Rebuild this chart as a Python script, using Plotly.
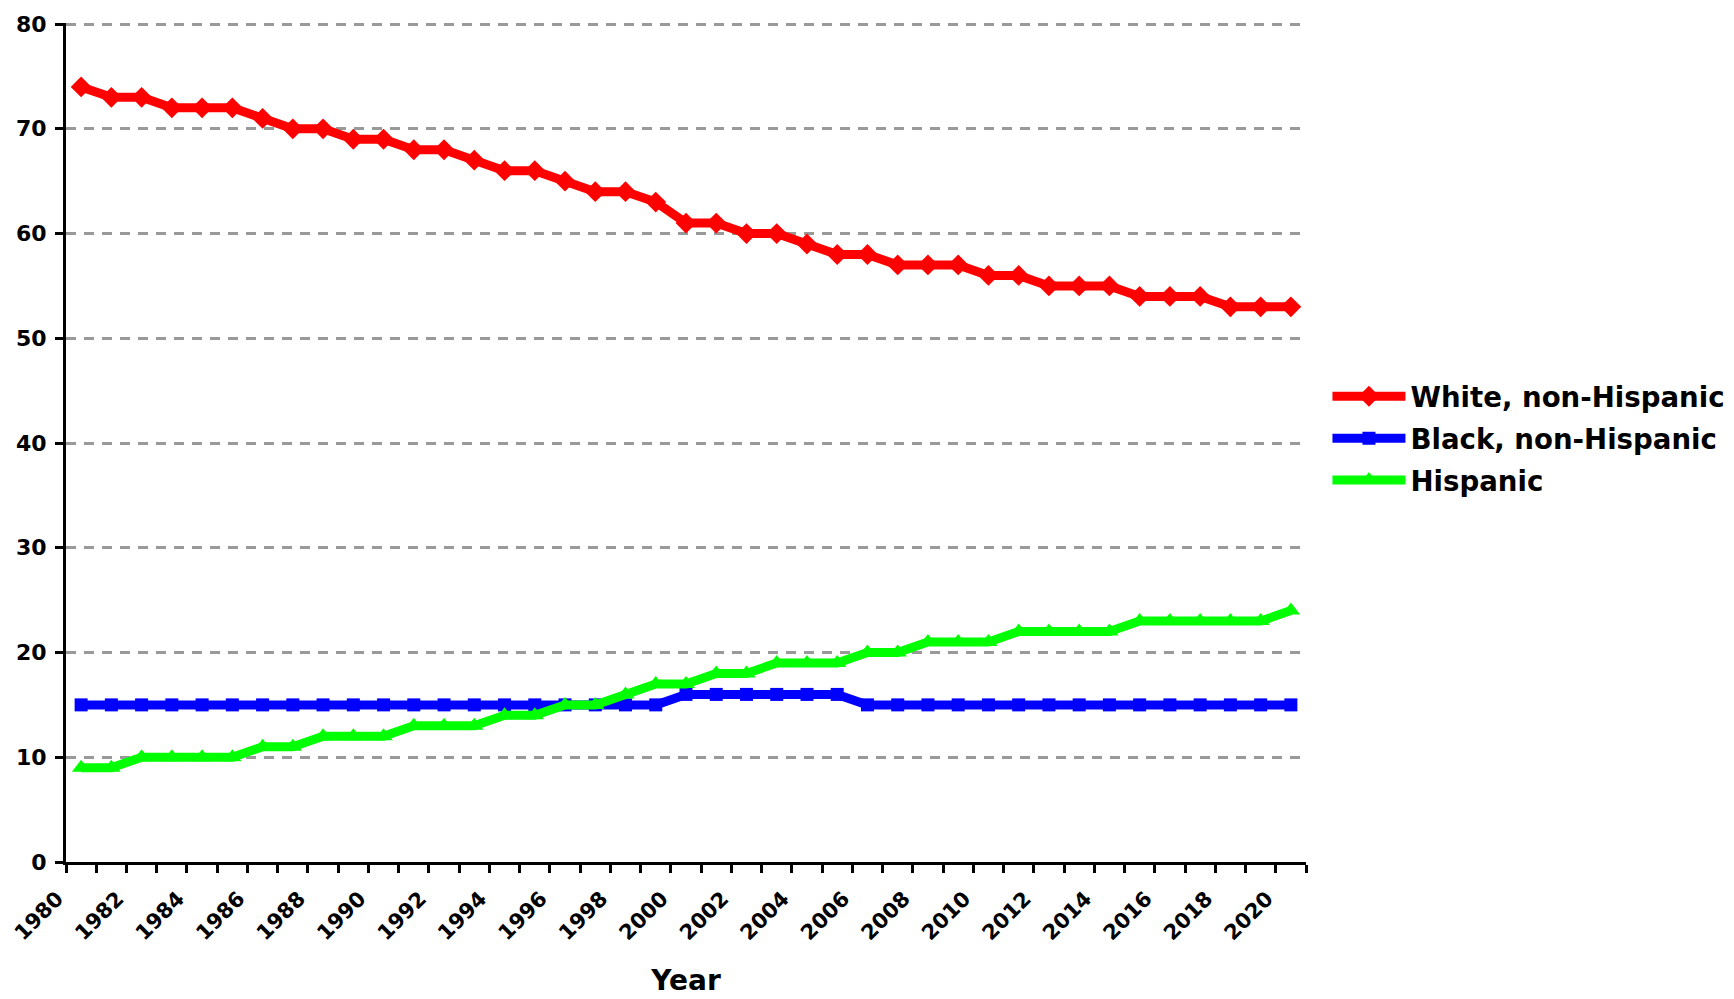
import plotly.graph_objects as go

years = list(range(1980, 2021))
white = [74, 73, 73, 72, 72, 72, 71, 70, 70, 69, 69, 68, 68, 67, 66, 66, 65, 64, 64, 63,
         61, 61, 60, 60, 59, 58, 58, 57, 57, 57, 56, 56, 55, 55, 55, 54, 54, 54, 53, 53, 53]
black = [15, 15, 15, 15, 15, 15, 15, 15, 15, 15, 15, 15, 15, 15, 15, 15, 15, 15, 15, 15,
         16, 16, 16, 16, 16, 16, 15, 15, 15, 15, 15, 15, 15, 15, 15, 15, 15, 15, 15, 15, 15]
hispanic = [9, 9, 10, 10, 10, 10, 11, 11, 12, 12, 12, 13, 13, 13, 14, 14, 15, 15, 16, 17,
            17, 18, 18, 19, 19, 19, 20, 20, 21, 21, 21, 22, 22, 22, 22, 23, 23, 23, 23, 23, 24]
label_years = list(range(1980, 2021, 2))

FONT = "DejaVu Sans"

fig = go.Figure()
series = [
    ("White, non-Hispanic", white, "#ff0000", "diamond", 16),
    ("Black, non-Hispanic", black, "#0000ff", "square", 13),
    ("Hispanic", hispanic, "#00ff00", "triangle-up", 16),
]
for name, vals, col, sym, sz in series:
    fig.add_trace(go.Scatter(
        x=years, y=vals, name=name, mode="lines+markers", legendgroup=name,
        line=dict(color=col, width=9),
        marker=dict(symbol=sym, size=sz, color=col, line=dict(width=0)),
    ))

fig.update_layout(
    width=1734, height=999,
    margin=dict(l=58, r=436, t=15, b=145),
    paper_bgcolor="white", plot_bgcolor="white",
    font=dict(family=FONT, color="black", weight="bold"),
    legend=dict(
        x=1.0173, xanchor="left", y=0.505, yanchor="middle",
        font=dict(family=FONT, size=27.6, color="black", weight="bold"),
        itemwidth=73, bgcolor="rgba(0,0,0,0)",
        traceorder="grouped", tracegroupgap=3,
    ),
)
fig.update_xaxes(
    automargin=False,
    range=[1979.5, 2020.5],
    tickmode="array", tickvals=label_years, ticktext=[str(y) for y in label_years],
    ticks="", tickangle=-45, ticklabelshift=-24, ticklabelstandoff=13,
    ticklabeloverflow="allow",
    tickfont=dict(family=FONT, size=21, color="black", weight="bold"),
    showline=True, linecolor="black", linewidth=3,
    showgrid=False, zeroline=False,
    minor=dict(ticks="outside", tickmode="linear", tick0=1979.5, dtick=1,
               ticklen=8, tickwidth=2.5, tickcolor="black", showgrid=False),
    title=dict(text="Year", font=dict(family=FONT, size=28, color="black", weight="bold"),
               standoff=27),
)
fig.update_yaxes(
    automargin=False,
    range=[0, 80.1], tickmode="linear", tick0=0, dtick=10,
    ticks="outside", ticklen=8, tickwidth=2.5, tickcolor="black",
    ticklabelstandoff=4, ticklabeloverflow="allow",
    tickfont=dict(family=FONT, size=22, color="black", weight="bold"),
    showline=True, linecolor="black", linewidth=3,
    showgrid=True, gridcolor="#999999", gridwidth=2.5, griddash="10px,8px",
    zeroline=False,
)

fig.write_html("out.html")
